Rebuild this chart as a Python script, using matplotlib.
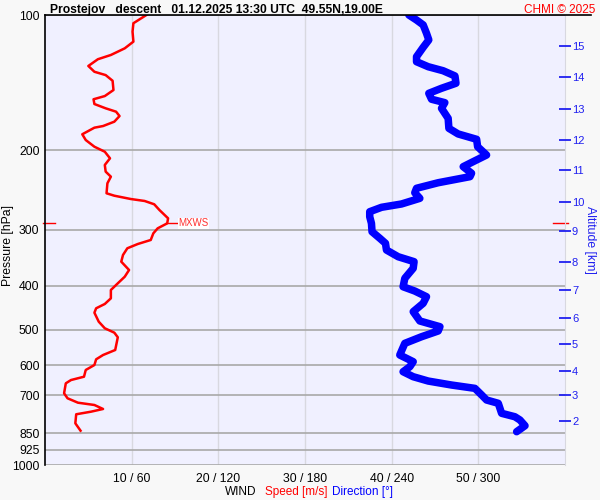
import matplotlib.pyplot as plt
from matplotlib.lines import Line2D
import matplotlib.transforms as mtransforms

plt.rcParams['font.family'] = ['Liberation Sans', 'DejaVu Sans']

# Rychlost vetru (m/s) podle tlaku (hPa)
speed_p = [100, 104.3, 108.9, 114.6, 118.6, 122.7, 125.4, 129.8, 133.7, 136.0,
           140.0, 146.8, 151.4, 153.9, 157.7, 161.2, 164.0, 167.7, 172.6, 176.5,
           178.0, 184.1, 189.6, 196.2, 201.3, 208.2, 215.4, 222.9, 228.7, 236.6,
           249.0, 252.1, 256.4, 259.0, 263.4, 271.2, 283.0, 290.4, 297.9, 305.6,
           316.2, 322.8, 329.9, 341.4, 353.3, 368.7, 381.6, 394.7, 408.4, 426.2,
           438.7, 448.5, 458.7, 480.3, 496.8, 508.1, 520.2, 555.2, 569.6, 582.3,
           599.5, 615.0, 636.5, 647.4, 658.4, 692.9, 710.8, 727.0, 735.6, 750.8,
           761.3, 771.4, 807.8, 839.0]
speed = [11.7, 10.2, 10.1, 10.2, 9.2, 7.6, 6.1, 5.0, 5.7, 7.0,
         7.8, 7.9, 6.9, 5.6, 5.7, 7.0, 8.2, 8.6, 8.0, 6.7,
         5.7, 4.3, 4.7, 5.7, 6.9, 7.5, 6.9, 7.0, 7.6, 7.2,
         7.1, 8.0, 9.9, 11.5, 12.6, 13.2, 14.2, 14.1, 13.0, 12.5,
         12.2, 10.7, 9.5, 9.0, 8.8, 9.7, 9.2, 8.4, 7.6, 7.6,
         6.9, 5.9, 5.7, 6.2, 6.9, 8.0, 8.4, 8.1, 6.7, 5.9,
         5.7, 4.7, 4.5, 3.0, 2.4, 2.2, 2.6, 3.8, 5.7, 6.7,
         5.3, 3.6, 3.5, 4.1]

# Smer vetru (stupne) podle tlaku (hPa)
dir_p = [100, 102.6, 105.2, 109.8, 113.6, 118.0, 123.8, 127.0, 130.3, 133.0,
         136.6, 141.8, 145.5, 149.3, 153.9, 156.6, 161.2, 169.7, 178.6, 183.8,
         188.9, 196.2, 204.7, 211.8, 217.3, 224.7, 228.7, 235.9, 242.7, 248.3,
         255.5, 263.0, 267.5, 273.6, 280.7, 290.4, 303.1, 313.5, 321.6, 332.9,
         344.5, 353.3, 365.5, 384.7, 401.7, 410.6, 422.7, 437.2, 456.3, 478.6,
         492.8, 503.7, 518.7, 536.6, 569.6, 589.4, 604.6, 620.5, 636.5, 650.8,
         664.2, 675.6, 699.0, 717.1, 729.3, 767.6, 781.2, 794.3, 817.9, 843.3]
direction = [251.9, 257.2, 261.8, 264.1, 265.7, 261.8, 257.2, 257.2, 265.3, 275.6,
             283.8, 284.5, 274.5, 265.7, 267.6, 276.8, 274.5, 279.1, 279.6, 286.0,
             298.8, 299.5, 305.7, 296.4, 289.5, 295.3, 294.2, 272.2, 257.2, 256.0,
             259.5, 246.8, 233.0, 224.8, 224.8, 226.0, 226.4, 231.8, 235.7, 236.4,
             244.5, 255.5, 254.9, 249.1, 247.9, 256.0, 264.1, 261.8, 254.9, 259.5,
             273.4, 272.2, 260.7, 249.1, 245.6, 254.9, 252.6, 247.9, 254.9, 265.3,
             281.5, 297.6, 302.3, 305.7, 313.8, 316.1, 325.3, 328.8, 332.3, 326.5]

# Osy
p_ticks = [100, 200, 300, 400, 500, 600, 700, 850, 925, 1000]
x_ticks = [10, 20, 30, 40, 50]
x_labels = ['10 / 60', '20 / 120', '30 / 180', '40 / 240', '50 / 300']
alt_km = [2, 3, 4, 5, 6, 7, 8, 9, 10, 11, 12, 13, 14, 15]
alt_p = [798.5, 700, 618.2, 539.1, 470.7, 408.4, 354.4, 302, 260, 221,
         189.6, 161.5, 137.5, 117.4]

# Maximalni vitr
mxws_p = 290.4
mxws_speed = 14.2

fig = plt.figure(figsize=(6, 5), dpi=100, facecolor='#F8F8F8')
ax = fig.add_axes([0.075, 0.07, 0.8667, 0.9])
ax.set_facecolor('#F0F0FF')

ax.set_yscale('log')
ax.set_ylim(1000, 100)
ax.set_xlim(0, 60)
ax.set_yticks(p_ticks)
ax.set_yticklabels([str(p) for p in p_ticks])
ax.minorticks_off()
ax.set_xticks(x_ticks)
ax.set_xticklabels(x_labels)
ax.tick_params(axis='both', length=0, labelsize=8.8)
ax.tick_params(axis='x', pad=6)
ax.tick_params(axis='y', pad=4)
ax.grid(axis='y', color='#A8A8A8', lw=1.2)
ax.grid(axis='x', color='#D8D8E0', lw=1)
ax.set_axisbelow(True)
for s in ['top', 'bottom']:
    ax.spines[s].set_visible(False)
ax.spines['left'].set_color('black')
ax.spines['left'].set_linewidth(1.2)
ax.spines['right'].set_color('#D8D8E0')

ax.plot(speed, speed_p, color='#FF0000', lw=1.8, zorder=3)

# smer na druhe ose x (0-360)
ax_dir = ax.twiny()
ax_dir.set_xlim(0, 360)
ax_dir.set_xticks([])
for s in ax_dir.spines.values():
    s.set_visible(False)
ax_dir.plot(direction, dir_p, color='#0000FF', lw=5.4, solid_capstyle='round',
            solid_joinstyle='round', zorder=3)

# vyska vpravo
ax_alt = ax.twinx()
ax_alt.set_yscale('log')
ax_alt.set_ylim(1000, 100)
ax_alt.set_yticks(alt_p)
ax_alt.set_yticklabels([str(a) for a in alt_km])
ax_alt.minorticks_off()
ax_alt.tick_params(axis='y', direction='inout', length=8, width=1.3,
                   color='#2020F0', labelcolor='#2020F0', labelsize=8, pad=1)
for s in ax_alt.spines.values():
    s.set_visible(False)
ax_alt.set_ylabel('Altitude [km]', color='#2020F0', rotation=270, fontsize=8.8, labelpad=8)

# MXWS
tr = mtransforms.blended_transform_factory(ax.transAxes, ax.transData)
ax.plot([-0.004, 0.02], [mxws_p, mxws_p], color='#FF0000', lw=1, transform=tr, clip_on=False)
ax.plot([0.976, 1.005], [mxws_p, mxws_p], color='#FF0000', lw=1, transform=tr, clip_on=False)
ax.plot([mxws_speed - 0.2, mxws_speed + 1.0], [mxws_p, mxws_p], color='#FF0000', lw=1, zorder=4)
ax.text(mxws_speed + 1.2, mxws_p, 'MXWS', color='#FF3030', fontsize=7, va='center', ha='left',
        bbox=dict(facecolor='white', edgecolor='none', pad=0.5), zorder=4)

# horni cara
fig.add_artist(Line2D([0.075, 0.985], [0.97, 0.97], color='black', lw=1.2))

fig.text(0.083, 0.98, 'Prostejov   descent   01.12.2025 13:30 UTC  49.55N,19.00E',
         fontsize=8.7, fontweight='bold', ha='left', va='center')
fig.text(0.992, 0.98, 'CHMI \u00a9 2025', color='#FF0000', fontsize=8.5, ha='right', va='center')
fig.text(0.013, 0.51, 'Pressure [hPa]', rotation=90, fontsize=8.8, ha='center', va='center')

fig.text(225 / 600, 0.016, 'WIND', fontsize=8.5, ha='left', va='center')
fig.text(265 / 600, 0.016, 'Speed [m/s]', color='#FF0000', fontsize=8.5, ha='left', va='center')
fig.text(332 / 600, 0.016, 'Direction [\u00b0]', color='#0000FF', fontsize=8.5, ha='left', va='center')

plt.savefig('out.png', dpi=100, facecolor=fig.get_facecolor())
